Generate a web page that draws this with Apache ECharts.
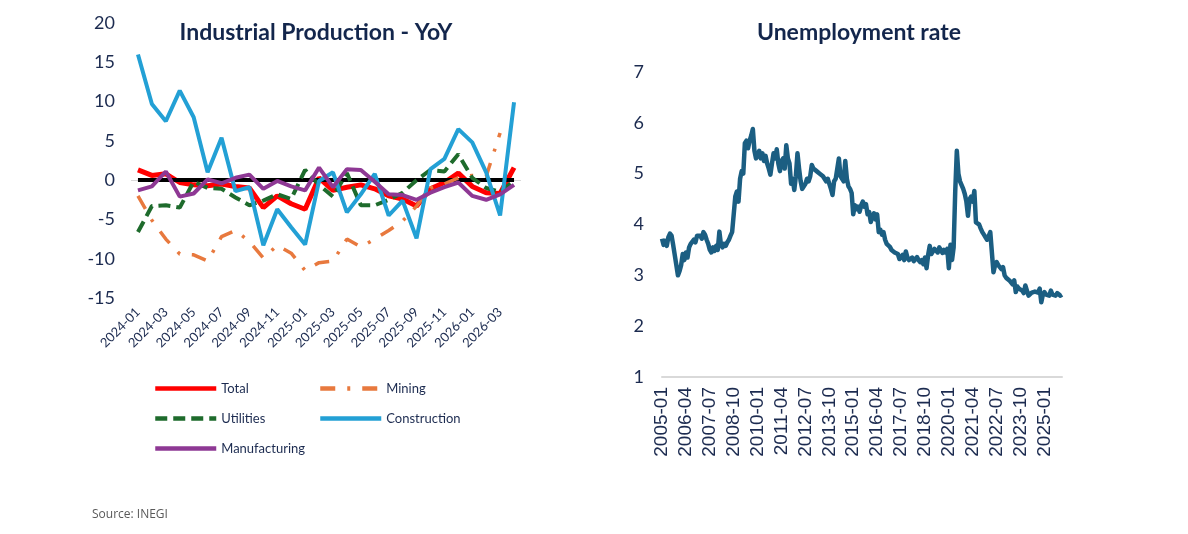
<!DOCTYPE html>
<html>
<head>
<meta charset="utf-8">
<script src="https://cdn.jsdelivr.net/npm/echarts@6/dist/echarts.min.js"></script>
<style>
  html, body { margin: 0; padding: 0; background: #fff; }
  #chart { width: 1188px; height: 534px; }
</style>
</head>
<body>
<div id="chart"></div>
<script>
// Left panel: Industrial Production YoY (%), monthly
function monthRange(startY, startM, count) {
  const out = [];
  for (let i = 0; i < count; i++) {
    const m = startM - 1 + i;
    const y = startY + Math.floor(m / 12);
    out.push(y + "-" + String((m % 12) + 1).padStart(2, "0"));
  }
  return out;
}

const ipMonths = monthRange(2024, 1, 28);

const total = [1.3, 0.6, 0.8, -0.3, -0.6, -0.7, -0.5, -0.8, -1.0, -3.5, -2.0, -3.0, -3.7, 0.3,
  -1.3, -0.9, -0.6, -1.1, -2.0, -2.4, -3.3, -1.1, -0.3, 0.9, -0.8, -1.6, -1.7, 1.6];
const mining = [-2.0, -5.1, -7.5, -9.4, -9.5, -10.3, -7.2, -6.4, -7.8, -9.9, -8.3, -9.3, -11.5, -10.5,
  -10.3, -7.5, -8.5, -7.5, -6.4, -5.2, -3.3, -1.0, -0.5, 0.3, 0.6, 0.5, 6.0, null];
const utilities = [-6.6, -3.3, -3.2, -3.5, -0.2, -1.0, -1.1, -2.2, -3.2, -2.6, -1.8, -2.4, 1.3, -0.6,
  -2.1, 0.9, -3.2, -3.2, -2.5, -1.6, 0.0, 1.3, 1.1, 3.3, 0.3, -1.0, -1.5, -0.1];
const construction = [16.0, 9.7, 7.5, 11.4, 8.0, 1.0, 5.4, -1.4, -0.9, -8.3, -3.7, -6.0, -8.2, -0.1,
  1.0, -4.1, -1.8, 0.8, -4.5, -2.6, -7.4, 1.4, 2.7, 6.5, 4.8, 1.0, -4.5, 9.9];
const manufacturing = [-1.3, -0.8, 1.1, -2.1, -1.7, 0.1, -0.4, 0.3, 0.7, -1.1, -0.1, -0.8, -1.3, 1.6,
  -0.9, 1.4, 1.3, -0.2, -1.8, -1.9, -2.5, -1.6, -0.9, -0.3, -2.0, -2.5, -1.8, -0.6];

// Right panel: unemployment rate (%), monthly 2005-01 .. 2025-12
const urMonths = monthRange(2005, 1, 252);
const unemployment = [
  3.72, 3.6, 3.68, 3.58, 3.75, 3.82, 3.78, 3.6, 3.4, 3.2, 3.0, 3.08,
  3.2, 3.42, 3.3, 3.45, 3.35, 3.55, 3.62, 3.6, 3.7, 3.65, 3.78, 3.75,
  3.78, 3.72, 3.85, 3.8, 3.7, 3.62, 3.5, 3.45, 3.55, 3.48, 3.58, 3.5,
  3.86, 3.6, 3.55, 3.62, 3.58, 3.65, 3.7, 3.78, 3.85, 3.82, 4.55, 4.65,
  4.45, 4.9, 5.05, 5.0, 5.6, 5.65, 5.5, 5.65, 5.75, 5.88, 5.45, 5.3,
  5.35, 5.45, 5.3, 5.4, 5.25, 5.35, 5.2, 5.1, 4.98, 5.2, 5.4, 5.3,
  5.48, 5.2, 5.05, 5.25, 5.3, 5.1, 5.56, 5.3, 5.2, 4.8, 4.9, 4.68,
  4.95, 5.4, 5.1, 4.85, 4.7, 4.68, 4.8, 4.9, 4.85, 4.95, 5.17, 5.1,
  5.12, 5.05, 5.08, 5.0, 5.0, 4.95, 4.92, 4.85, 4.9, 4.8, 4.7, 4.58,
  4.85, 4.9, 5.1, 5.3, 4.95, 4.9, 4.85, 5.25, 4.9, 4.75, 4.7, 4.62,
  4.2, 4.38, 4.3, 4.35, 4.25, 4.38, 4.45, 4.35, 4.4, 4.2, 4.25, 4.05,
  4.15, 4.22, 4.1, 4.2, 3.85, 3.9, 3.8, 3.85, 3.7, 3.62, 3.65, 3.56,
  3.5, 3.52, 3.45, 3.48, 3.42, 3.32, 3.35, 3.4, 3.3, 3.47, 3.35, 3.3,
  3.3, 3.35, 3.28, 3.3, 3.36, 3.3, 3.26, 3.3, 3.22, 3.35, 3.14, 3.4,
  3.58, 3.42, 3.45, 3.52, 3.5, 3.45, 3.55, 3.5, 3.44, 3.5, 3.45, 3.52,
  3.14, 3.6, 3.3, 3.55, 4.65, 5.45, 5.0, 4.85, 4.88, 4.7, 4.6, 4.45,
  4.17, 4.5, 4.55, 4.45, 4.66, 4.04, 4.02, 4.0, 3.92, 3.85, 3.8, 3.75,
  3.7, 3.72, 3.85, 3.45, 3.06, 3.2, 3.26, 3.2, 3.19, 3.12, 3.16, 3.0,
  2.95, 2.93, 2.9, 2.87, 2.82, 2.9, 2.67, 2.78, 2.74, 2.72, 2.7, 2.65,
  2.8, 2.7, 2.6, 2.62, 2.66, 2.64, 2.68, 2.7, 2.66, 2.74, 2.47, 2.62,
  2.67, 2.62, 2.64, 2.6, 2.7, 2.62, 2.64, 2.6, 2.65, 2.67, 2.6, 2.62
];

const navy = "#1c2b50";
const chart = echarts.init(document.getElementById("chart"));

// shared legend look: plain thick line, no marker
const legendBase = {
  orient: "vertical", top: 382, padding: 0,
  itemWidth: 61, itemHeight: 14, itemGap: 17,
  itemStyle: { opacity: 0 },
  lineStyle: { width: 4.5 },
  textStyle: { fontFamily: "Lato", fontSize: 13, color: navy }
};

const option = {
  animation: false,
  backgroundColor: "#fff",
  title: [
    {
      text: "Industrial Production - YoY",
      left: 311, top: 16, textAlign: "center",
      textStyle: { fontFamily: "Lato", fontSize: 23, fontWeight: "bold", color: "#13264c" }
    },
    {
      text: "Unemployment rate",
      left: 854, top: 16, textAlign: "center",
      textStyle: { fontFamily: "Lato", fontSize: 23, fontWeight: "bold", color: "#13264c" }
    }
  ],
  legend: [
    Object.assign({}, legendBase, { data: ["Total", "Utilities", "Manufacturing"], left: 153 }),
    Object.assign({}, legendBase, { data: ["Mining", "Construction"], left: 318 })
  ],
  graphic: [
    {
      type: "text", left: 92, top: 509,
      style: { text: "Source: INEGI", fontFamily: "Open Sans", fontSize: 12, fill: "#595959" }
    }
  ],
  grid: [
    { left: 131, right: 667, top: 23, bottom: 236 },
    { left: 662, right: 126, top: 72, bottom: 157 }
  ],
  xAxis: [
    {
      gridIndex: 0, type: "category", data: ipMonths, boundaryGap: true,
      axisLine: { show: false, onZero: false },
      axisTick: { show: false },
      axisLabel: {
        interval: 1, rotate: 45, margin: 12,
        fontFamily: "Lato", fontSize: 13, color: navy
      }
    },
    {
      gridIndex: 1, type: "category", data: urMonths, boundaryGap: false,
      axisLine: { show: true, lineStyle: { color: "#d9d9d9", width: 2 } },
      axisTick: { show: false },
      axisLabel: {
        interval: 14, rotate: 90, margin: 10,
        fontFamily: "Liberation Sans", fontSize: 19, color: navy
      }
    }
  ],
  yAxis: [
    {
      gridIndex: 0, type: "value", min: -15, max: 20, interval: 5,
      splitLine: { show: false }, axisLine: { show: false }, axisTick: { show: false },
      axisLabel: { margin: 16, fontFamily: "Lato", fontSize: 18, color: navy }
    },
    {
      gridIndex: 1, type: "value", min: 1, max: 7, interval: 1,
      splitLine: { show: false }, axisLine: { show: false }, axisTick: { show: false },
      axisLabel: { margin: 18, fontFamily: "Lato", fontSize: 18, color: navy }
    }
  ],
  series: [
    {
      name: "Total", type: "line", data: total, xAxisIndex: 0, yAxisIndex: 0,
      symbol: "none", z: 2,
      lineStyle: { color: "#ff0000", width: 5 }, itemStyle: { color: "#ff0000" },
      markLine: {
        silent: true, symbol: "none", z: 3, label: { show: false },
        data: [
          { yAxis: 0, lineStyle: { color: "#d9d9d9", width: 1, type: "solid" } },
          [
            { coord: [ipMonths[0], 0], lineStyle: { color: "#000", width: 4, type: "solid" } },
            { coord: [ipMonths[ipMonths.length - 1], 0] }
          ]
        ]
      }
    },
    {
      name: "Mining", type: "line", data: mining, xAxisIndex: 0, yAxisIndex: 0,
      symbol: "none", z: 4,
      lineStyle: { color: "#e8793e", width: 3.5, type: [15, 12, 3, 12] },
      itemStyle: { color: "#e8793e" }
    },
    {
      name: "Utilities", type: "line", data: utilities, xAxisIndex: 0, yAxisIndex: 0,
      symbol: "none", z: 4,
      lineStyle: { color: "#1e6b2c", width: 4, type: [12, 6] },
      itemStyle: { color: "#1e6b2c" }
    },
    {
      name: "Construction", type: "line", data: construction, xAxisIndex: 0, yAxisIndex: 0,
      symbol: "none", z: 5,
      lineStyle: { color: "#23a0d5", width: 4 }, itemStyle: { color: "#23a0d5" }
    },
    {
      name: "Manufacturing", type: "line", data: manufacturing, xAxisIndex: 0, yAxisIndex: 0,
      symbol: "none", z: 6,
      lineStyle: { color: "#8e3894", width: 4 }, itemStyle: { color: "#8e3894" }
    },
    {
      name: "Unemployment rate", type: "line", data: unemployment, xAxisIndex: 1, yAxisIndex: 1,
      symbol: "none",
      lineStyle: { color: "#1b5e82", width: 4.5, join: "round" }, itemStyle: { color: "#1b5e82" }
    }
  ]
};

chart.setOption(option);
</script>
</body>
</html>
